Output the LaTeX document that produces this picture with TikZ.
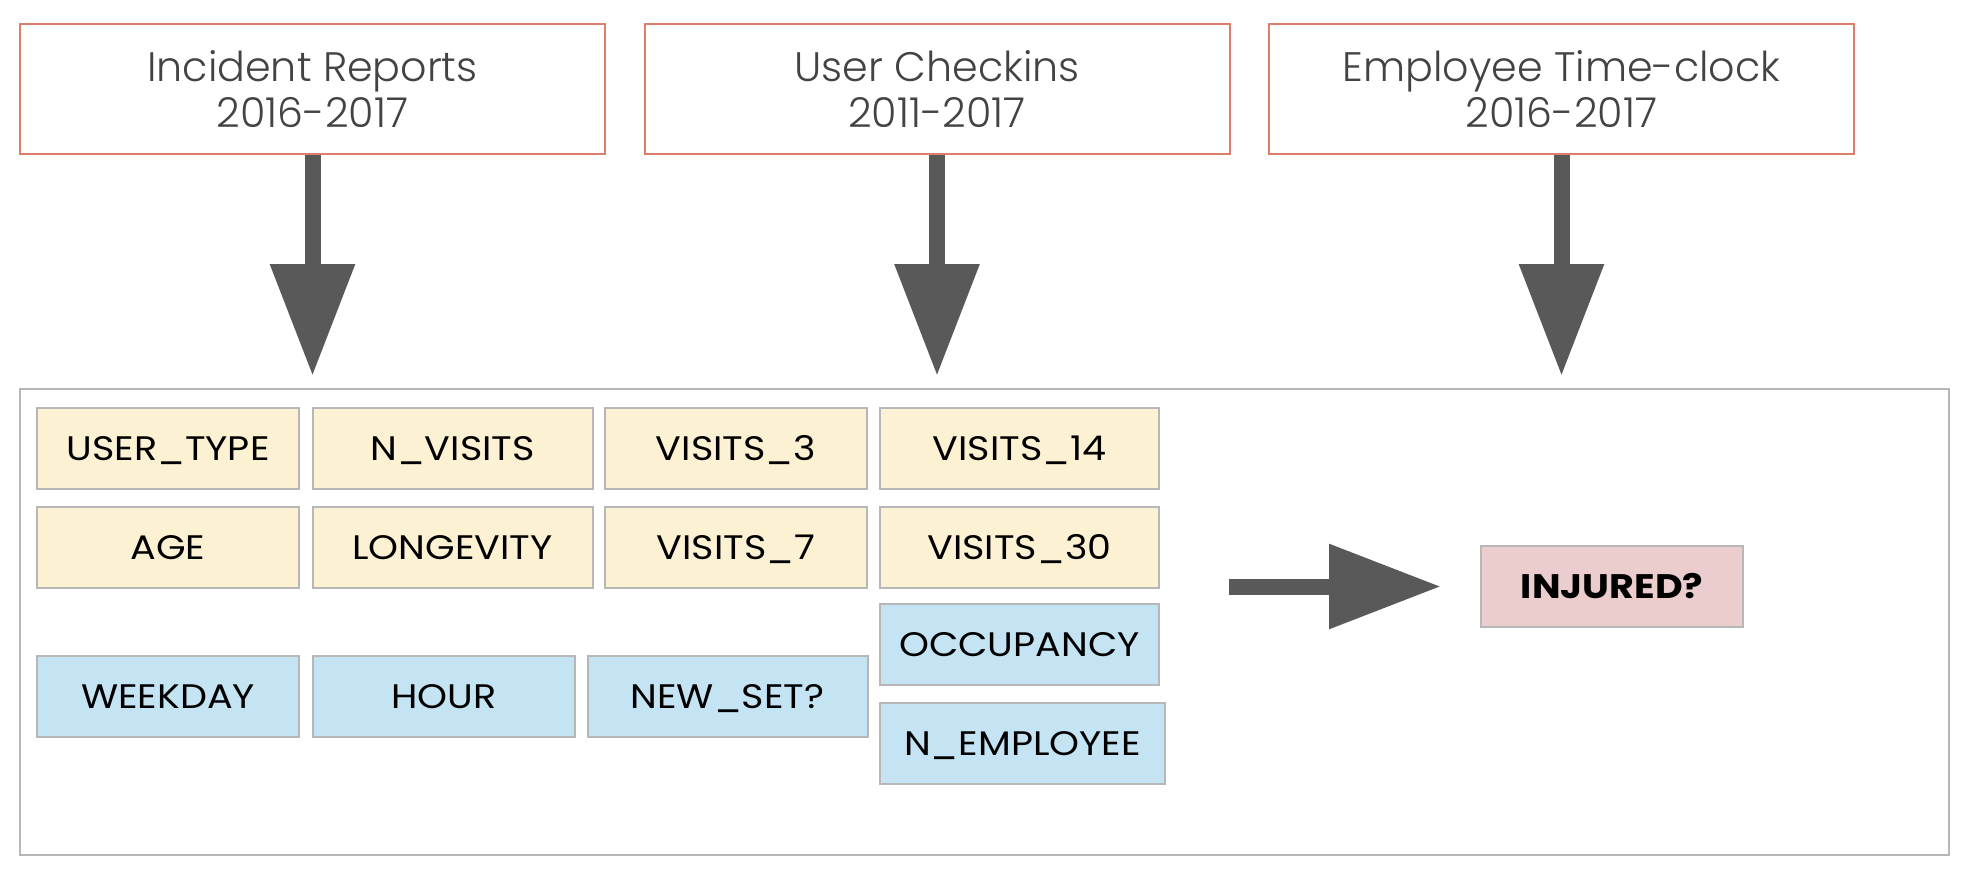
\documentclass[tikz,border=0pt]{standalone}
\usepackage{fontspec}
\setmainfont{Poppins}
\newfontfamily\labelfont[FakeStretch=1.12]{Poppins}
\IfFontExistsTF{Poppins Light}{\newfontfamily\titlefont{Poppins Light}}{\newfontfamily\titlefont{Poppins}}
\usetikzlibrary{arrows.meta}
\usetikzlibrary{positioning}
\definecolor{salmon}{HTML}{DD7E6B}
\definecolor{titlegray}{HTML}{434343}
\definecolor{arrowgray}{HTML}{595959}
\definecolor{framegray}{HTML}{B7B7B7}
\definecolor{userfill}{HTML}{FCF1D2}
\definecolor{contextfill}{HTML}{C4E4F4}
\definecolor{targetfill}{HTML}{EBCDCD}
\tikzstyle{source} = [draw=salmon, line width=1pt, minimum width=292.5pt, minimum height=65pt, text=titlegray, align=center, font=\titlefont\fontsize{20.6}{22.85}\selectfont]
\tikzstyle{feature} = [draw=framegray, line width=1pt, outer sep=0pt, minimum height=40.5pt, inner sep=0pt, text height=11.85pt, text depth=0pt, font=\labelfont\fontsize{17}{20}\selectfont]
\tikzstyle{user} = [feature, fill=userfill]
\tikzstyle{context} = [feature, fill=contextfill]
\tikzstyle{bigarrow} = [arrowgray, line width=8pt, -{Triangle[length=56pt, width=40.5pt]}]

\begin{document}
\begin{tikzpicture}[x=0.5pt, y=-0.5pt]
\useasboundingbox (0,0) rectangle (1972,878);

% data sources
\node[source] (inc) at (312.5,89) {Incident Reports\\2016-2017};
\node[source] (chk) at (937,89) {User Checkins\\2011-2017};
\node[source] (clk) at (1561.5,89) {Employee Time-clock\\2016-2017};

% feature table
\node[draw=framegray, line width=1pt, minimum width=964.5pt, minimum height=233pt] (table) at (984.5,622) {};

\node[user, minimum width=131pt, anchor=north west] (ut) at (37,408) {USER\_TYPE};
\node[user, minimum width=140pt, right=6.75pt of ut] (nv) {N\_VISITS};
\node[user, minimum width=131pt, right=6.25pt of nv] (v3) {VISITS\_3};
\node[user, minimum width=139.5pt, right=6.5pt of v3] (v14) {VISITS\_14};
\node[user, minimum width=131pt, below=9pt of ut] (age) {AGE};
\node[user, minimum width=140pt, below=9pt of nv] (lon) {LONGEVITY};
\node[user, minimum width=131pt, below=9pt of v3] (v7) {VISITS\_7};
\node[user, minimum width=139.5pt, below=9pt of v14] (v30) {VISITS\_30};

\node[context, minimum width=139.5pt, below=8pt of v30] (occ) {OCCUPANCY};
\node[context, minimum width=142.5pt, below=9pt of occ.south west, anchor=north west] (emp) {N\_EMPLOYEE};
\node[context, minimum width=131pt, below=34pt of age] (wd) {WEEKDAY};
\node[context, minimum width=131.25pt, right=6.75pt of wd] (hr) {HOUR};
\node[context, minimum width=140pt, right=6.25pt of hr] (ns) {NEW\_SET?};

% target
\node[feature, fill=targetfill, minimum width=131pt, font=\labelfont\fontsize{17}{20}\selectfont\bfseries] (inj) at (1612,586.5) {INJURED?};

% arrows
\draw[bigarrow] (inc) -- (inc |- table.north) [shorten >=6pt];
\draw[bigarrow] (chk) -- (chk |- table.north) [shorten >=6pt];
\draw[bigarrow] (clk) -- (clk |- table.north) [shorten >=6pt];
\draw[bigarrow, shorten <=35pt, shorten >=20pt] (v30.east |- inj.west) -- (inj.west);
\end{tikzpicture}
\end{document}
